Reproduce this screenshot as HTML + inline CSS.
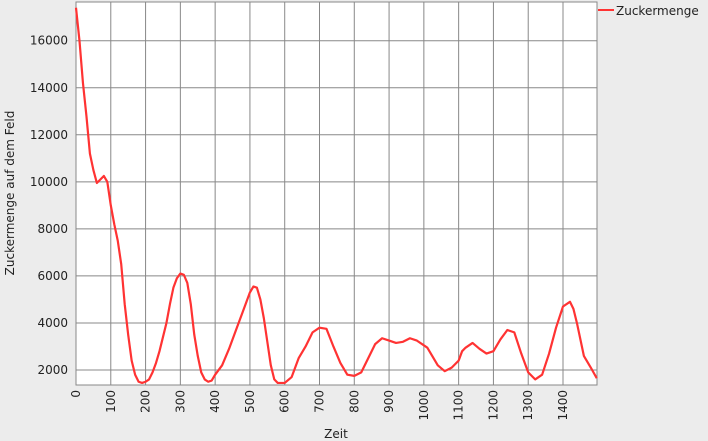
<!DOCTYPE html>
<html><head><meta charset="utf-8"><style>
body{margin:0;background:#ececec;}
svg{display:block;font-family:"DejaVu Sans","Liberation Sans",sans-serif;}
</style></head><body>
<svg id="c" width="708" height="441"></svg>
<script>
const xs=[0,10,20,30,40,50,60,70,80,90,100,110,120,130,140,150,160,170,180,190,200,210,220,230,240,250,260,270,280,290,300,310,320,330,340,350,360,370,380,390,400,420,440,460,480,500,510,520,530,540,550,560,570,580,600,620,640,660,680,700,720,740,760,780,800,820,840,860,880,900,920,940,960,980,1000,1010,1020,1040,1060,1080,1100,1110,1120,1140,1160,1180,1200,1220,1240,1260,1280,1300,1320,1340,1360,1380,1400,1420,1430,1440,1460,1480,1497];
const ys=[17400,16000,14200,12800,11200,10500,9950,10100,10250,10000,9000,8200,7500,6500,4800,3500,2400,1800,1500,1450,1500,1600,1900,2300,2800,3400,4000,4800,5500,5900,6100,6050,5700,4800,3500,2600,1900,1600,1500,1550,1800,2200,2900,3700,4500,5300,5550,5500,5000,4200,3200,2200,1600,1450,1450,1700,2500,3000,3600,3800,3750,3000,2300,1800,1750,1900,2500,3100,3350,3250,3150,3200,3350,3250,3050,2950,2700,2200,1950,2100,2400,2800,2950,3150,2900,2700,2800,3300,3700,3600,2700,1900,1600,1800,2700,3800,4700,4900,4600,4000,2600,2100,1650];
const xTicks=[0,100,200,300,400,500,600,700,800,900,1000,1100,1200,1300,1400];
const yTicks=[2000,4000,6000,8000,10000,12000,14000,16000];
const L=76,R=597,T=2,B=385;
const X=v=>L+v*(563-76)/1400;
const Y=v=>370-(v-2000)*47.04/2000;
const svg=document.getElementById('c');
const NS='http://www.w3.org/2000/svg';
function mk(t,a,p){const e=document.createElementNS(NS,t);for(const k in a)e.setAttribute(k,a[k]);(p||svg).appendChild(e);return e;}
const bg=mk('rect',{x:L,y:T,width:R-L,height:B-T,fill:'#fff'});


xTicks.forEach(v=>{const x=X(v);
 const g=mk('line',{x1:x,x2:x,y1:T,y2:B,stroke:'#888','stroke-width':1});
 
 
 const t=mk('text',{x:0,y:0,'font-size':12,fill:'#222','text-anchor':'end',transform:`translate(${x+4},${B+5}) rotate(-90)`});
 t.textContent=v;
 
 
});
yTicks.forEach(v=>{const y=Y(v);
 const g=mk('line',{x1:L,x2:R,y1:y,y2:y,stroke:'#888','stroke-width':1});
 
 
 const t=mk('text',{x:L-8,y:y+4,'font-size':12,fill:'#222','text-anchor':'end'});
 t.textContent=v;
 
 
});
const fr=mk('rect',{x:L,y:T,width:R-L,height:B-T,fill:'none',stroke:'#888'});


const line=mk('polyline',{points:xs.map((v,i)=>X(v)+','+Y(ys[i])).join(' '),fill:'none',stroke:'#ff3333','stroke-width':2.2,'stroke-linejoin':'round'});


const ll=mk('line',{x1:598,x2:614,y1:10,y2:10,stroke:'#ff3333','stroke-width':2});


const lt=mk('text',{x:616,y:15,'font-size':12,fill:'#222'});
lt.textContent='Zuckermenge';


const xt=mk('text',{x:336,y:438,'font-size':12,fill:'#222','text-anchor':'middle'});
xt.textContent='Zeit';


const yt=mk('text',{x:0,y:0,'font-size':12,fill:'#222','text-anchor':'middle',transform:'translate(14,193) rotate(-90)'});
yt.textContent='Zuckermenge auf dem Feld';


</script>
</body></html>
